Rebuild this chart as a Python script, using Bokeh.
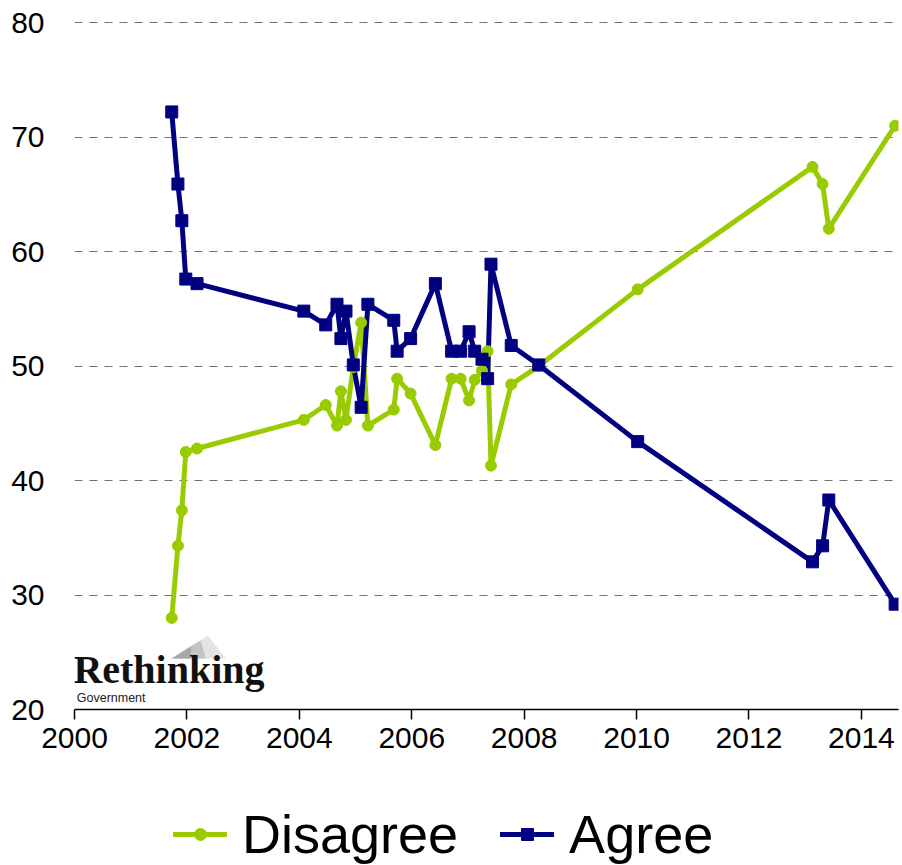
from bokeh.plotting import figure
from bokeh.layouts import column
from bokeh.models import FixedTicker, Legend, LegendItem, Label, PolyAnnotation, Range1d
from bokeh.embed import file_html
from bokeh.resources import INLINE

# ---- data ----
dates = [2001.73, 2001.84, 2001.91, 2001.98, 2002.18,
         2004.08, 2004.47, 2004.67, 2004.74, 2004.83, 2004.96, 2005.10, 2005.22,
         2005.68, 2005.74, 2005.98, 2006.42, 2006.71, 2006.87, 2007.02, 2007.12,
         2007.25, 2007.35, 2007.41, 2007.77, 2008.26, 2010.02,
         2013.13, 2013.31, 2013.42, 2014.60]
agree = [72.2, 65.9, 62.7, 57.6, 57.2,
         54.8, 53.6, 55.4, 52.4, 54.8, 50.1, 46.4, 55.4,
         54.0, 51.3, 52.4, 57.2, 51.3, 51.3, 53.0, 51.3,
         50.6, 48.9, 58.9, 51.8, 50.1, 43.4,
         32.9, 34.3, 38.3, 29.2]
disagree = [28.0, 34.3, 37.4, 42.5, 42.8,
            45.3, 46.6, 44.8, 47.8, 45.3, 49.9, 53.8, 44.8,
            46.2, 48.9, 47.6, 43.1, 48.9, 48.9, 47.0, 48.8,
            49.6, 51.3, 41.3, 48.4, 50.0, 56.7,
            67.4, 65.9, 62.0, 71.0]
x_ticks = [2000, 2002, 2004, 2006, 2008, 2010, 2012, 2014]
y_ticks = [20, 30, 40, 50, 60, 70, 80]
grid_ticks = [30, 40, 50, 60, 70, 80]
series_names = ["Disagree", "Agree"]

GREEN = "#99CC00"
NAVY = "#000080"
FONT = "Liberation Sans"

p = figure(width=902, height=758, output_backend="svg", toolbar_location=None,
           x_range=Range1d(2000, 2014.66), y_range=Range1d(20, 80.1),
           min_border_left=74, min_border_right=4, min_border_top=21,
           min_border_bottom=49)
p.outline_line_color = None
p.background_fill_color = "white"
p.border_fill_color = "white"

p.xgrid.visible = False
p.ygrid.ticker = FixedTicker(ticks=grid_ticks)
p.ygrid.grid_line_color = "#707070"
p.ygrid.grid_line_dash = "8 7"
p.ygrid.grid_line_width = 1

p.yaxis.ticker = FixedTicker(ticks=y_ticks)
p.yaxis.axis_line_color = None
p.yaxis.major_tick_line_color = None
p.yaxis.minor_tick_line_color = None
p.yaxis.major_tick_out = 0
p.yaxis.major_tick_in = 0
p.yaxis.major_label_standoff = 30
p.yaxis.major_label_text_font = FONT
p.yaxis.major_label_text_font_size = "30px"
p.yaxis.major_label_text_color = "black"

p.xaxis.ticker = FixedTicker(ticks=x_ticks)
p.xaxis.axis_line_color = "black"
p.xaxis.axis_line_width = 1.5
p.xaxis.major_tick_line_color = "black"
p.xaxis.major_tick_line_width = 1.5
p.xaxis.major_tick_out = 10
p.xaxis.major_tick_in = 0
p.xaxis.minor_tick_line_color = None
p.xaxis.major_label_standoff = 8
p.xaxis.major_label_text_font = FONT
p.xaxis.major_label_text_font_size = "30px"
p.xaxis.major_label_text_color = "black"

# logo (decoration)
p.add_layout(PolyAnnotation(xs=[2001.713, 2002.372, 2002.692], ys=[24.45, 26.46, 24.45],
                            fill_color="#e4e4e4", fill_alpha=1, line_color=None))
p.add_layout(PolyAnnotation(xs=[2001.713, 2002.247, 2002.336], ys=[24.45, 26.03, 24.45],
                            fill_color="#c4c4c4", fill_alpha=1, line_color=None))
p.add_layout(PolyAnnotation(xs=[2001.749, 2002.069, 2002.069], ys=[24.45, 25.50, 24.45],
                            fill_color="#a8a8a8", fill_alpha=1, line_color=None))
p.add_layout(Label(x=1999.98, y=23.5, text="Rethinking", text_font="Liberation Serif",
                   text_font_style="bold", text_font_size="40px", text_color="#111111",
                   text_baseline="alphabetic"))
p.add_layout(Label(x=2000.04, y=21.0, text="Government", text_font=FONT,
                   text_font_size="12.5px", text_color="#222222", text_baseline="alphabetic"))

p.line(dates, disagree, line_color=GREEN, line_width=5, line_join="round", line_cap="round")
p.line(dates, agree, line_color=NAVY, line_width=5, line_join="round", line_cap="round")
p.scatter(dates, disagree, marker="circle", size=11, fill_color=GREEN, line_color=GREEN)
p.scatter(dates, agree, marker="square", size=12, fill_color=NAVY, line_color=NAVY)

# legend strip (separate figure below the chart; its ranges keep the series out of view)
q = figure(width=902, height=107, output_backend="svg", toolbar_location=None,
           x_range=Range1d(0, 1), y_range=Range1d(0, 1), min_border=0,
           x_axis_location=None, y_axis_location=None)
q.grid.visible = False
q.outline_line_color = None
q.border_fill_color = "white"
q.background_fill_color = "white"
l_dl = q.line(dates, disagree, line_color=GREEN, line_width=5, line_cap="round")
l_dm = q.scatter(dates, disagree, marker="circle", size=10, fill_color=GREEN, line_color=GREEN)
l_al = q.line(dates, agree, line_color=NAVY, line_width=5, line_cap="round")
l_am = q.scatter(dates, agree, marker="square", size=11, fill_color=NAVY, line_color=NAVY)

legend = Legend(items=[LegendItem(label=series_names[0], renderers=[l_dl, l_dm]),
                       LegendItem(label=series_names[1], renderers=[l_al, l_am])],
                orientation="horizontal", location=(99, 0),
                label_text_font=FONT, label_text_font_size="54px", label_text_color="black",
                glyph_width=54, glyph_height=30, label_standoff=15, spacing=42,
                border_line_color=None, background_fill_alpha=0, padding=0, margin=0)
q.add_layout(legend)

open("out.html", "w").write(file_html(column(p, q), INLINE))
